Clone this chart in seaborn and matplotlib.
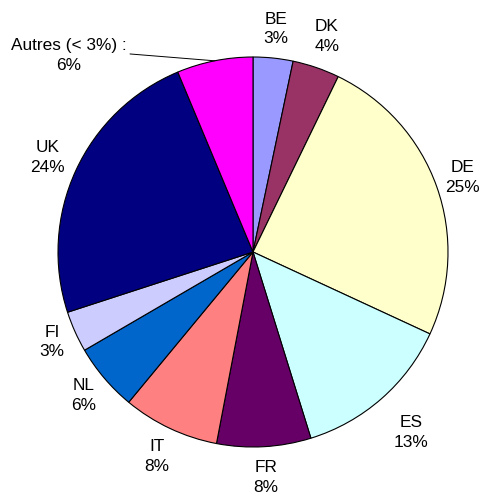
import numpy as np
import matplotlib
matplotlib.use('Agg')
import matplotlib.pyplot as plt
import seaborn as sns

# data (share in %)
pays = ['BE', 'DK', 'DE', 'ES', 'FR', 'IT', 'NL', 'FI', 'UK', 'Autres (< 3%) :']
parts = [3.3, 3.9, 24.7, 13.3, 7.8, 8.0, 5.6, 3.4, 23.7, 6.3]
couleurs = ['#9999FF', '#993366', '#FFFFCC', '#CCFFFF', '#660066',
            '#FF8080', '#0066CC', '#CCCCFF', '#000080', '#FF00FF']

sns.set_style('white')
plt.rcParams['font.family'] = ['Liberation Sans', 'DejaVu Sans']
plt.rcParams['text.color'] = 'black'

fig = plt.figure(figsize=(4.83, 4.99), dpi=100)
ax = fig.add_axes([0, 0, 1, 1])

wedges, _ = ax.pie(parts, colors=couleurs, startangle=90, counterclock=False,
                   wedgeprops={'edgecolor': 'black', 'linewidth': 0.8})

# distance of each label from the centre (radius = 1)
dist = [1.15, 1.17, 1.14, 1.23, 1.16, 1.16, 1.14, 1.13, 1.16, None]

total = sum(parts)
cum = np.cumsum(parts) - np.array(parts) / 2
for i, (nom, p) in enumerate(zip(pays, parts)):
    theta = np.deg2rad(90 - 360 * cum[i] / total)
    txt = f'{nom}\n{round(p)}%'
    if dist[i] is None:
        ax.annotate(txt, xy=(np.cos(theta), np.sin(theta)), xytext=(-0.944, 1.008),
                    ha='center', va='center', fontsize=12.4, linespacing=1.4,
                    color='black',
                    arrowprops=dict(arrowstyle='-', color='black', lw=0.7,
                                    relpos=(1.0, 0.55), shrinkA=0, shrinkB=0))
    else:
        r = dist[i]
        ax.text(r * np.cos(theta), r * np.sin(theta), txt, ha='center', va='center',
                fontsize=12.4, linespacing=1.4, color='black')

# centre at (253, 252) px, radius 195 px
R = 195.0
ax.set_xlim(-253 / R, (483 - 253) / R)
ax.set_ylim(-(499 - 252) / R, 252 / R)
ax.set_aspect('auto')
ax.axis('off')

fig.savefig('out.png', dpi=100)
